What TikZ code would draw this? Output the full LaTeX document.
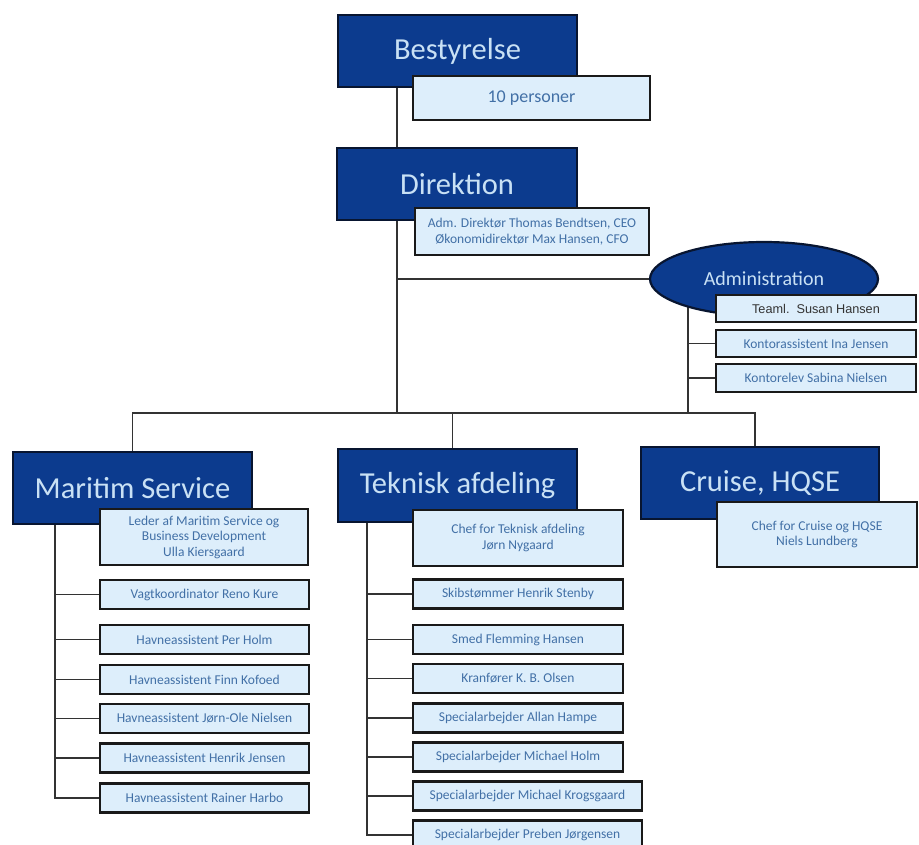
\documentclass[tikz,border=0pt]{standalone}
\usepackage{fontspec}
\setmainfont{Carlito}
\newfontfamily\arialfont{Liberation Sans}
\usetikzlibrary{shapes.geometric,backgrounds}
\definecolor{navy}{HTML}{0C3B8E}
\definecolor{navyborder}{HTML}{081530}
\definecolor{titletxt}{HTML}{C9E1F5}
\definecolor{lightfill}{HTML}{DDEEFB}
\definecolor{lighttxt}{HTML}{4270A6}
\definecolor{linegray}{HTML}{333333}
\definecolor{darktxt}{HTML}{333333}
\begin{document}
\begin{tikzpicture}[x=1pt,y=-1pt,
  dbox/.style={rectangle, draw=navyborder, line width=2.2pt, fill=navy, text=titletxt,
    font=\fontsize{30.5}{36}\selectfont, inner sep=0pt},
  lbox/.style={rectangle, draw=black!90, line width=2.8pt, fill=lightfill, text=lighttxt,
    font=\fontsize{13.5}{15.5}\selectfont, align=center, inner sep=0pt},
  conn/.style={draw=linegray, line width=1.8pt}]
\useasboundingbox (0,0) rectangle (919,844);

% title boxes
\node[dbox, minimum width=239pt, minimum height=72pt] (best) at (457.5,51) {Bestyrelse};
\node[dbox, minimum width=240pt, minimum height=72pt] (dir) at (457,184) {Direktion};
\node[dbox, minimum width=239pt, minimum height=72pt] (ms) at (132.5,488) {Maritim Service};
\node[dbox, minimum width=239pt, minimum height=73pt] (tk) at (457.5,485.5) {Teknisk afdeling};
\node[dbox, minimum width=238pt, minimum height=72pt] (cr) at (760,483) {Cruise, HQSE};
\node[ellipse, draw=navyborder, line width=2.2pt, fill=navy, text=titletxt,
  font=\fontsize{20}{24}\selectfont, minimum width=228pt, minimum height=74pt, inner sep=0pt]
  (adm) at (764,279) {Administration};

% light boxes
\node[lbox, font=\fontsize{18}{21}\selectfont, minimum width=237pt, minimum height=44pt] (bests) at (531.5,98) {10 personer};
\node[lbox, minimum width=234pt, minimum height=47pt] (dirs) at (532,231.5) {Adm. Direktør Thomas Bendtsen, CEO\\Økonomidirektør Max Hansen, CFO};

\node[lbox, text=darktxt, font=\arialfont\fontsize{12.7}{15}\selectfont, minimum width=200pt, minimum height=27pt] (a1) at (816,308.5) {Teaml.\ \ Susan Hansen};
\node[lbox, minimum width=200pt, minimum height=27pt] (a2) at (816,343.5) {Kontorassistent Ina Jensen};
\node[lbox, minimum width=200pt, minimum height=28pt] (a3) at (816,378) {Kontorelev Sabina Nielsen};

\node[lbox, minimum width=208pt, minimum height=56pt] (mss) at (204,537) {Leder af Maritim Service og\\Business Development\\Ulla Kiersgaard};
\node[lbox, minimum width=209pt, minimum height=29pt] (m1) at (204.5,594.5) {Vagtkoordinator Reno Kure};
\node[lbox, minimum width=209pt, minimum height=29pt] (m2) at (204.5,639.5) {Havneassistent Per Holm};
\node[lbox, minimum width=209pt, minimum height=29pt] (m3) at (204.5,679.5) {Havneassistent Finn Kofoed};
\node[lbox, minimum width=209pt, minimum height=29pt] (m4) at (204.5,718.5) {Havneassistent Jørn-Ole Nielsen};
\node[lbox, minimum width=209pt, minimum height=29pt] (m5) at (204.5,758) {Havneassistent Henrik Jensen};
\node[lbox, minimum width=209pt, minimum height=29pt] (m6) at (204.5,798) {Havneassistent Rainer Harbo};

\node[lbox, minimum width=210pt, minimum height=56pt] (tks) at (518,538) {Chef for Teknisk afdeling\\Jørn Nygaard};
\node[lbox, minimum width=210pt, minimum height=29pt] (t1) at (518,594) {Skibstømmer Henrik Stenby};
\node[lbox, minimum width=210pt, minimum height=29pt] (t2) at (518,639.5) {Smed Flemming Hansen};
\node[lbox, minimum width=210pt, minimum height=29pt] (t3) at (518,678.5) {Kranfører K. B. Olsen};
\node[lbox, minimum width=210pt, minimum height=29pt] (t4) at (518,718) {Specialarbejder Allan Hampe};
\node[lbox, minimum width=210pt, minimum height=29pt] (t5) at (518,757) {Specialarbejder Michael Holm};
\node[lbox, minimum width=229pt, minimum height=29pt] (t6) at (527.5,796) {Specialarbejder Michael Krogsgaard};
\node[lbox, minimum width=229pt, minimum height=29pt] (t7) at (527.5,835) {Specialarbejder Preben Jørgensen};

\node[lbox, minimum width=200pt, minimum height=65pt] (crs) at (817,534.5) {Chef for Cruise og HQSE\\Niels Lundberg};

% connectors
\coordinate (spine) at (397,413);
\coordinate (admx) at (688,413);
\coordinate (msx) at (55,0);
\coordinate (tkx) at (367,0);
\coordinate (tktop) at ([xshift=-5pt]tk.north);
\coordinate (crtop) at ([xshift=-5pt]cr.north);
\begin{pgfonlayer}{background}
\draw[conn] (best.south -| spine) -- (spine);
\draw[conn] (spine |- adm.west) -- (adm.west);
\draw[conn] (admx) -- (admx |- adm.center);
\draw[conn] (admx |- a2.west) -- (a2.west);
\draw[conn] (admx |- a3.west) -- (a3.west);
\draw[conn] (ms.north) |- (crtop |- spine) -- (crtop);
\draw[conn] (tktop) -- (tktop |- spine);
\draw[conn] (ms.south -| msx) |- (m6.west);
\foreach \i in {1,...,5} \draw[conn] (msx |- m\i.west) -- (m\i.west);
\draw[conn] (tk.south -| tkx) |- (t7.west);
\foreach \i in {1,...,6} \draw[conn] (tkx |- t\i.west) -- (t\i.west);
\end{pgfonlayer}
\end{tikzpicture}
\end{document}
